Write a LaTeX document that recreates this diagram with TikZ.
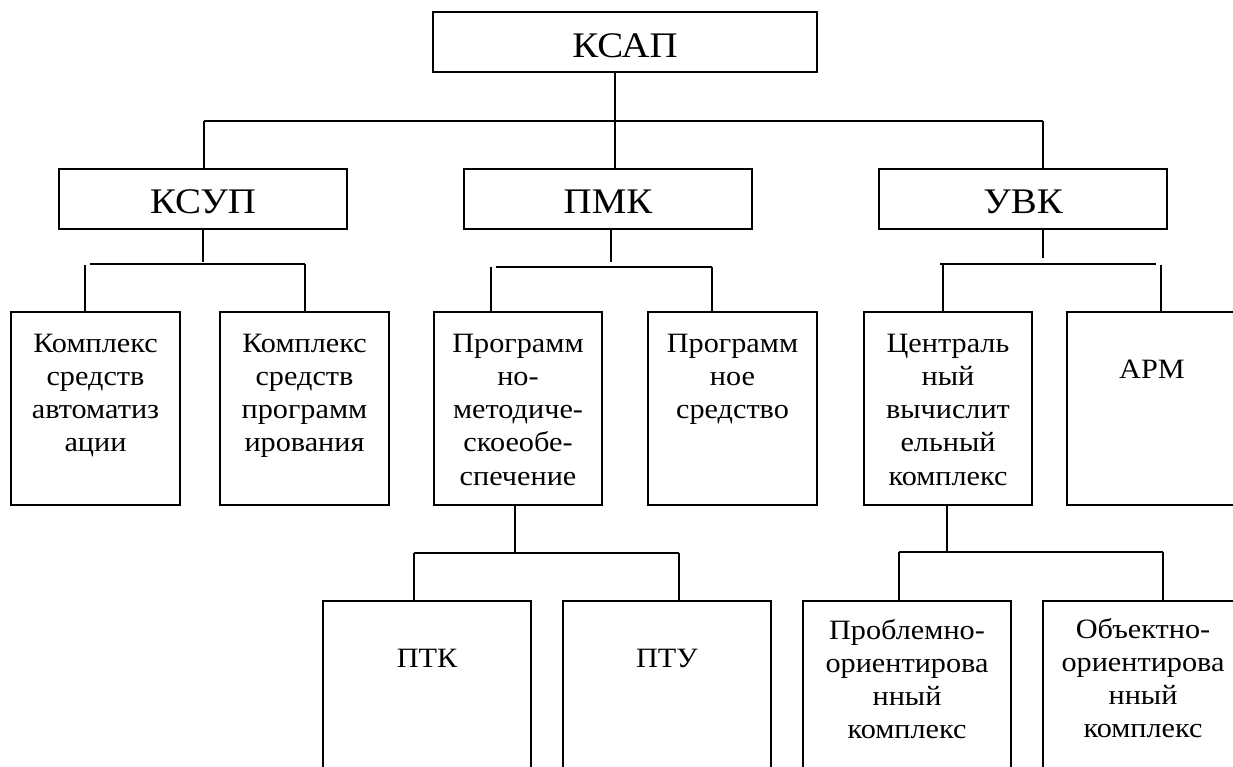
\documentclass[tikz,border=0pt]{standalone}
\usepackage{fontspec}
\setmainfont[FakeStretch=1.08]{Liberation Serif}
\newcommand\boxtxt[4]{\parbox[c][#1][t]{#2}{\centering\rule{0pt}{#3}#4}}
\tikzset{
  box/.style={draw, line width=1.3pt, inner sep=0pt, outer sep=0pt, anchor=north west},
  conn/.style={line width=1.3pt},
  big/.style={font=\fontsize{36pt}{40pt}\selectfont},
  small/.style={font=\fontsize{28pt}{33.3pt}\selectfont},
}
\begin{document}
\begin{tikzpicture}[x=1pt,y=-1pt]
\useasboundingbox (0,0) rectangle (1233,766);
\clip (0,0) rectangle (1233,766);
% level 0 / 1
\node[box,big] (ksap) at (433,12) {\boxtxt{60pt}{384pt}{45pt}{КСАП}};
\node[box,big] (ksup) at (59,169) {\boxtxt{60pt}{288pt}{44pt}{КСУП}};
\node[box,big] (pmk) at (464,169) {\boxtxt{60pt}{288pt}{44pt}{ПМК}};
\node[box,big] (uvk) at (879,169) {\boxtxt{60pt}{288pt}{44pt}{УВК}};
% level 2
\node[box,small] (k1) at (11,312) {\boxtxt{193pt}{169pt}{40pt}{Комплекс\\средств\\автоматиз\\ации}};
\node[box,small] (k2) at (220,312) {\boxtxt{193pt}{169pt}{40pt}{Комплекс\\средств\\программ\\ирования}};
\node[box,small] (pm) at (434,312) {\boxtxt{193pt}{168pt}{40pt}{Программ\\но-\\методиче-\\скоеобе-\\спечение}};
\node[box,small] (ps) at (648,312) {\boxtxt{193pt}{169pt}{40pt}{Программ\\ное\\средство}};
\node[box,small] (cv) at (864,312) {\boxtxt{193pt}{168pt}{40pt}{Централь\\ный\\вычислит\\ельный\\комплекс}};
\node[box,small] (arm) at (1067,312) {\boxtxt{193pt}{170pt}{66pt}{АРМ}};
% level 3
\node[box,small] (ptk) at (323,601) {\boxtxt{200pt}{208pt}{66pt}{ПТК}};
\node[box,small] (ptu) at (563,601) {\boxtxt{200pt}{208pt}{66pt}{ПТУ}};
\node[box,small] (pr) at (803,601) {\boxtxt{200pt}{208pt}{38pt}{Проблемно-\\ориентирова\\нный\\комплекс}};
\node[box,small] (ob) at (1043,601) {\boxtxt{200pt}{200pt}{37pt}{Объектно-\\ориентирова\\нный\\комплекс}};
% junction coordinates
\coordinate (v0) at (615,121);
\coordinate (b0l) at (204,121);
\coordinate (b0r) at (1043,121);
\coordinate (s1) at (203,262);
\coordinate (b1l) at (90,264);
\coordinate (b1r) at (305,264);
\coordinate (t1l) at (85,265);
\coordinate (s2) at (611,262);
\coordinate (b2l) at (496,267);
\coordinate (b2r) at (712,267);
\coordinate (t2l) at (491,267);
\coordinate (s3) at (1043,258);
\coordinate (b3l) at (940,264);
\coordinate (b3r) at (1156,264);
\coordinate (t3l) at (943,264);
\coordinate (t3r) at (1161,265);
\coordinate (s4) at (515,553);
\coordinate (b4l) at (414,553);
\coordinate (b4r) at (679,553);
\coordinate (s5) at (947,552);
\coordinate (b5l) at (899,552);
\coordinate (b5r) at (1163,552);
% level 0 connectors
\draw[conn] (v0 |- ksap.south) -- (v0 |- pmk.north);
\draw[conn] (b0l) -- (b0r);
\draw[conn] (b0l) -- (b0l |- ksup.north);
\draw[conn] (b0r) -- (b0r |- uvk.north);
% KSUP group
\draw[conn] (s1 |- ksup.south) -- (s1);
\draw[conn] (b1l) -- (b1r);
\draw[conn] (t1l) -- (t1l |- k1.north);
\draw[conn] (b1r) -- (b1r |- k2.north);
% PMK group
\draw[conn] (s2 |- pmk.south) -- (s2);
\draw[conn] (b2l) -- (b2r);
\draw[conn] (t2l) -- (t2l |- pm.north);
\draw[conn] (b2r) -- (b2r |- ps.north);
% UVK group
\draw[conn] (s3 |- uvk.south) -- (s3);
\draw[conn] (b3l) -- (b3r);
\draw[conn] (t3l) -- (t3l |- cv.north);
\draw[conn] (t3r) -- (t3r |- arm.north);
% PM group
\draw[conn] (s4 |- pm.south) -- (s4);
\draw[conn] (b4l) -- (b4r);
\draw[conn] (b4l) -- (b4l |- ptk.north);
\draw[conn] (b4r) -- (b4r |- ptu.north);
% CV group
\draw[conn] (s5 |- cv.south) -- (s5);
\draw[conn] (b5l) -- (b5r);
\draw[conn] (b5l) -- (b5l |- pr.north);
\draw[conn] (b5r) -- (b5r |- ob.north);
\end{tikzpicture}
\end{document}
